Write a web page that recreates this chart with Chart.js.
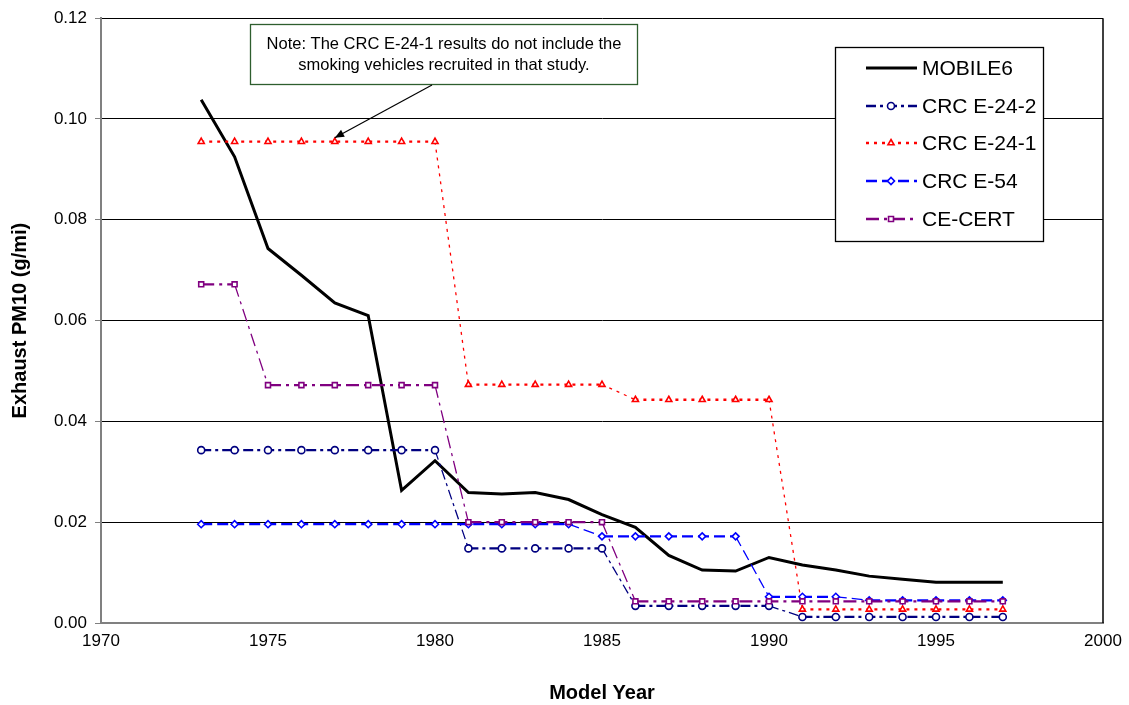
<!DOCTYPE html>
<html>
<head>
<meta charset="utf-8">
<script src="https://cdn.jsdelivr.net/npm/chart.js@4"></script>
<style>
html,body{margin:0;padding:0;background:#fff;}
#wrap{width:1129px;height:705px;position:relative;}
</style>
</head>
<body>
<div id="wrap"><canvas id="c" width="1129" height="705"></canvas></div>
<script>
const years = [1973,1974,1975,1976,1977,1978,1979,1980,1981,1982,1983,1984,1985,1986,1987,1988,1989,1990,1991,1992,1993,1994,1995,1996,1997];
const mobile6 = [0.1038,0.0925,0.0743,0.0690,0.0635,0.0610,0.0263,0.0322,0.0259,0.0256,0.0259,0.0245,0.0215,0.0190,0.0134,0.0105,0.0103,0.0130,0.0115,0.0105,0.0093,0.0087,0.0081,0.0081,0.0081];
const crcE242 = [0.0343,0.0343,0.0343,0.0343,0.0343,0.0343,0.0343,0.0343,0.0148,0.0148,0.0148,0.0148,0.0148,0.0034,0.0034,0.0034,0.0034,0.0034,0.0012,0.0012,0.0012,0.0012,0.0012,0.0012,0.0012];
const crcE241 = [0.0955,0.0955,0.0955,0.0955,0.0955,0.0955,0.0955,0.0955,0.0473,0.0473,0.0473,0.0473,0.0473,0.0443,0.0443,0.0443,0.0443,0.0443,0.0027,0.0027,0.0027,0.0027,0.0027,0.0027,0.0027];
const crcE54 = [0.0196,0.0196,0.0196,0.0196,0.0196,0.0196,0.0196,0.0196,0.0196,0.0196,0.0196,0.0196,0.0172,0.0172,0.0172,0.0172,0.0172,0.0052,0.0052,0.0052,0.0045,0.0045,0.0045,0.0045,0.0045];
const ceCert = [0.0672,0.0672,0.0472,0.0472,0.0472,0.0472,0.0472,0.0472,0.0200,0.0200,0.0200,0.0200,0.0200,0.0043,0.0043,0.0043,0.0043,0.0043,0.0043,0.0043,0.0043,0.0043,0.0043,0.0043,0.0043];
const seriesNames = ['MOBILE6','CRC E-24-2','CRC E-24-1','CRC E-54','CE-CERT'];
const noteLines = ['Note: The CRC E-24-1 results do not include the','smoking vehicles recruited in that study.'];
const xTitle = 'Model Year';
const yTitle = 'Exhaust PM10 (g/mi)';

const FONT = '"Liberation Sans", Arial, sans-serif';
const pts = arr => arr.map((v,i)=>({x:years[i], y:v}));
const stepWidth = (w) => ({borderWidth: ctx => (ctx.p0.parsed.y !== ctx.p1.parsed.y ? 1.3 : w)});

const styles = [
  {color:'#000000', dash:[], width:3, point:false, pointStyle:'circle'},
  {color:'#000080', dash:[10,4,3,4], width:2.3, point:true, pointStyle:'circle'},
  {color:'#FF0000', dash:[3,5], width:2.3, point:true, pointStyle:'triangle'},
  {color:'#0000FF', dash:[11,5], width:2.3, point:true, pointStyle:'rectRot'},
  {color:'#800080', dash:[13,5,3,5], width:2.3, point:true, pointStyle:'rect'}
];
const dataArrays = [mobile6, crcE242, crcE241, crcE54, ceCert];

const datasets = dataArrays.map((arr,i)=>{
  const s = styles[i];
  return {
    label: seriesNames[i],
    data: pts(arr),
    borderColor: s.color,
    backgroundColor: '#ffffff',
    borderWidth: s.width,
    borderDash: s.dash,
    pointRadius: s.point ? 3.5 : 0,
    pointStyle: s.pointStyle,
    pointBorderColor: s.color,
    pointBackgroundColor: '#ffffff',
    pointBorderWidth: 1.6,
    tension: 0,
    segment: s.point ? stepWidth(s.width) : undefined,
    order: 5 - i
  };
});

const overlay = {
  id:'overlay',
  afterDraw(chart){
    const ctx = chart.ctx;
    const a = chart.chartArea;
    ctx.save();
    ctx.strokeStyle = '#000';
    ctx.lineWidth = 1.5;
    ctx.beginPath();
    ctx.moveTo(a.right, a.top); ctx.lineTo(a.right, a.bottom);
    ctx.stroke();
    // legend box
    const lx=835.5, ly=47.5, lw=208, lh=194;
    ctx.fillStyle='#fff';
    ctx.fillRect(lx,ly,lw,lh);
    ctx.strokeStyle='#000'; ctx.lineWidth=1.3;
    ctx.strokeRect(lx,ly,lw,lh);
    ctx.font = '21px ' + FONT;
    ctx.textBaseline='middle';
    const rows=[68,106,143,181,219];
    rows.forEach((ry,i)=>{
      const s = styles[i];
      ctx.strokeStyle = s.color;
      ctx.lineWidth = s.width;
      ctx.setLineDash(s.dash);
      ctx.beginPath(); ctx.moveTo(866, ry); ctx.lineTo(917, ry); ctx.stroke();
      ctx.setLineDash([]);
      if (s.point){
        ctx.fillStyle='#fff';
        ctx.strokeStyle=s.color; ctx.lineWidth=1.6;
        Chart.helpers.drawPoint(ctx, {pointStyle:s.pointStyle, radius:3.5, borderWidth:1.6}, 891, ry);
      }
      ctx.fillStyle='#000';
      ctx.textAlign='left';
      ctx.fillText(seriesNames[i], 922, ry+1);
    });
    // note box
    const nx=250.5, ny=24.5, nw=387, nh=60;
    ctx.fillStyle='#fff';
    ctx.fillRect(nx,ny,nw,nh);
    ctx.strokeStyle='#2E5E2E'; ctx.lineWidth=1.3;
    ctx.strokeRect(nx,ny,nw,nh);
    ctx.fillStyle='#000';
    ctx.font='16.5px ' + FONT;
    ctx.textAlign='center';
    ctx.textBaseline='middle';
    ctx.fillText(noteLines[0], nx+nw/2, 44);
    ctx.fillText(noteLines[1], nx+nw/2, 65);
    // arrow
    const x0=432, y0=85;
    const x1=chart.scales.x.getPixelForValue(1977), y1=chart.scales.y.getPixelForValue(0.0955)-4;
    ctx.strokeStyle='#000'; ctx.lineWidth=1.2;
    ctx.beginPath(); ctx.moveTo(x0,y0); ctx.lineTo(x1,y1); ctx.stroke();
    const ang=Math.atan2(y1-y0,x1-x0);
    const L=10, W=0.4;
    ctx.fillStyle='#000';
    ctx.beginPath();
    ctx.moveTo(x1,y1);
    ctx.lineTo(x1-L*Math.cos(ang-W), y1-L*Math.sin(ang-W));
    ctx.lineTo(x1-L*Math.cos(ang+W), y1-L*Math.sin(ang+W));
    ctx.closePath(); ctx.fill();
    ctx.restore();
  }
};

new Chart(document.getElementById('c'), {
  type:'line',
  data:{datasets},
  options:{
    responsive:false,
    animation:false,
    events:[],
    layout:{padding:{top:15,right:26,left:8,bottom:0}},
    plugins:{legend:{display:false}, tooltip:{enabled:false}},
    scales:{
      x:{
        type:'linear', min:1970, max:2000,
        ticks:{stepSize:5, color:'#000', font:{family:FONT,size:17}, padding:2, callback:v=>String(v), maxRotation:0},
        grid:{display:false, drawTicks:true, tickLength:6, tickColor:'#808080'},
        border:{color:'#808080', width:2},
        title:{display:true, text:xTitle, color:'#000', font:{family:FONT,size:20,weight:'bold'}, padding:{top:16,bottom:0}},
        afterFit(s){ s.height = 82; }
      },
      y:{
        min:0, max:0.12,
        ticks:{stepSize:0.02, color:'#000', font:{family:FONT,size:17}, padding:8, callback:v=>Number(v).toFixed(2)},
        grid:{color:'#000', lineWidth:1, drawTicks:true, tickLength:6, tickColor:'#808080'},
        border:{color:'#808080', width:2},
        title:{display:true, text:yTitle, color:'#000', font:{family:FONT,size:20,weight:'bold'}, padding:{top:0,bottom:2}},
        afterFit(s){ s.width = 93; }
      }
    }
  },
  plugins:[overlay]
});
</script>
</body>
</html>
